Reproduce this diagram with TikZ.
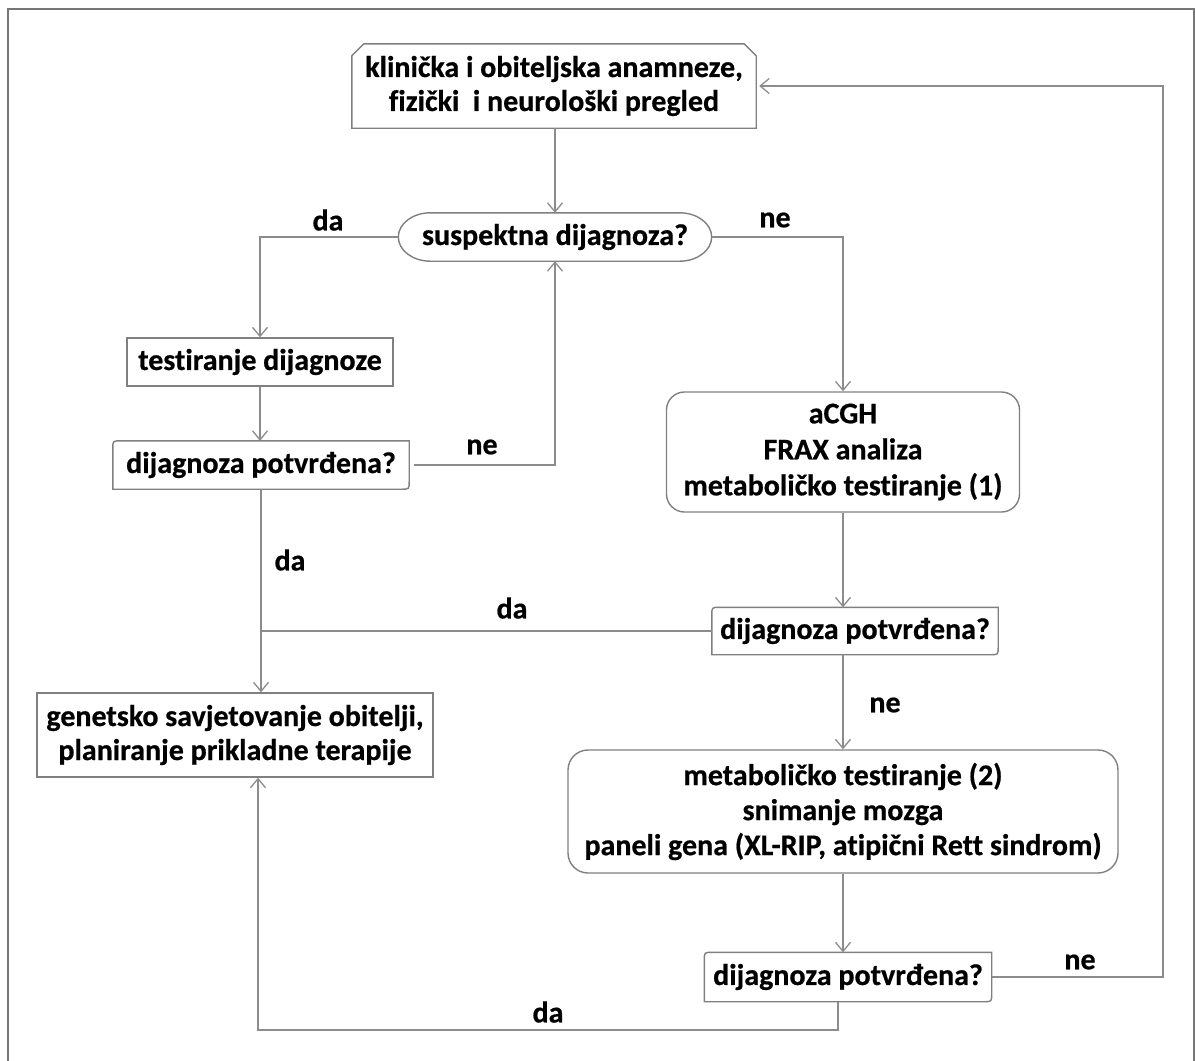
\documentclass[tikz,border=0pt]{standalone}
\usepackage{fontspec}
\setmainfont{Carlito}[Ligatures={NoCommon}, BoldFeatures={FakeBold=0.6}]
\usetikzlibrary{arrows.meta}
\definecolor{boxgray}{HTML}{808080}
\definecolor{linegray}{HTML}{8C8C8C}
\definecolor{framegray}{HTML}{767676}
\begin{document}
\begin{tikzpicture}[x=1pt,y=-1pt,
  txt/.style={font=\fontsize{30}{34}\selectfont\bfseries, align=center, inner sep=0pt},
  plainbox/.style={txt, draw=boxgray, line width=1.4pt},
  hidden/.style={txt, draw=none},
  conn/.style={draw=linegray, line width=1.3pt},
  arr/.style={conn, -{Straight Barb[length=9pt,width=15pt,line width=1.3pt]}},
  lbl/.style={font=\fontsize{30}{34}\selectfont\bfseries, inner sep=0pt}
]
\useasboundingbox (0,0) rectangle (1195,1061);
\begin{scope}
\clip (0,0) rectangle (1195,1061);
\draw[framegray, line width=2pt] (7.5,8.5) rectangle (1194,1085);
\end{scope}

% nodes
\node[hidden, minimum width=404pt, minimum height=84pt] (top) at (554,86)
  {klinička i obiteljska anamneze,\\fizički\ \ i neurološki pregled};
\draw[boxgray, line width=1.4pt]
  (top.south west) -- ([yshift=-12pt]top.north west) -- ([xshift=12pt]top.north west)
  -- ([xshift=-12pt]top.north east) -- ([yshift=-12pt]top.north east) -- (top.south east) -- cycle;

\node[hidden, minimum width=313pt, minimum height=48pt] (susp) at (555,237)
  {suspektna dijagnoza?};
\draw[boxgray, line width=1.4pt]
  (susp.west) .. controls ([yshift=13.25pt]susp.west) and ([xshift=14.3pt]susp.north west) .. ([xshift=32pt]susp.north west)
  -- ([xshift=-32pt]susp.north east) .. controls ([xshift=-14.3pt]susp.north east) and ([yshift=13.25pt]susp.east) .. (susp.east)
  .. controls ([yshift=-13.25pt]susp.east) and ([xshift=-14.3pt]susp.south east) .. ([xshift=-32pt]susp.south east)
  -- ([xshift=32pt]susp.south west) .. controls ([xshift=14.3pt]susp.south west) and ([yshift=-13.25pt]susp.west) .. (susp.west)
  -- cycle;

\node[plainbox, minimum width=266pt, minimum height=48pt] (test) at (260,362)
  {testiranje dijagnoze};

\node[hidden, minimum width=296pt, minimum height=48pt] (d1) at (261,465) {dijagnoza potvrđena?};
\node[plainbox, rounded corners=18pt, minimum width=353pt, minimum height=120pt] (acgh) at (843,452)
  {aCGH\\[2pt]FRAX analiza\\[2pt]metaboličko testiranje (1)};
\node[hidden, minimum width=286pt, minimum height=47pt] (d2) at (855,631) {dijagnoza potvrđena?};
\node[plainbox, minimum width=396pt, minimum height=84pt] (gen) at (235,735)
  {genetsko savjetovanje obitelji,\\planiranje prikladne terapije};
\node[plainbox, rounded corners=20pt, minimum width=550pt, minimum height=123pt] (met) at (843,811.5)
  {metaboličko testiranje (2)\\[1pt]snimanje mozga\\[1pt]paneli gena (XL-RIP, atipični Rett sindrom)};
\node[hidden, minimum width=287pt, minimum height=49pt] (d3) at (848,977) {dijagnoza potvrđena?};

% round-diagonal decision boxes
\foreach \n in {d1,d2,d3}{
  \draw[boxgray, line width=1.4pt]
    (\n.south west) -- ([yshift=-8pt]\n.north west) .. controls (\n.north west) .. ([xshift=8pt]\n.north west)
    -- (\n.north east) -- ([yshift=8pt]\n.south east) .. controls (\n.south east) .. ([xshift=-8pt]\n.south east)
    -- cycle;
}

% connectors
\draw[arr] (top.south -| susp.north) -- (susp.north);
\draw[arr] (susp.west) -| (test.north);
\draw[arr] (susp.east) -| (acgh.north);
\draw[arr] (test.south) -- (test.south |- d1.north);
\draw[arr] ([xshift=5pt]d1.east) -| (susp.south);
\draw[arr] (d1.south) -- (d1.south |- gen.north);
\draw[conn] (d2.west) -- (d1.south |- d2.west);
\draw[arr] (acgh.south) -- (acgh.south |- d2.north);
\draw[arr] (acgh.south |- d2.south) -- (acgh.south |- met.north);
\draw[arr] (met.south) -- (met.south |- d3.north);
\coordinate (rt) at (1163,977);
\draw[arr] (d3.east) -- (rt) |- ([xshift=3pt]top.east);
\coordinate (bt) at (838,1030);
\draw[arr] (bt |- d3.south) -- (bt) -| ([xshift=23pt]gen.south);

% labels
\node[lbl] (l1) at (328,220) {da};
\node[lbl] (l2) at (775,220) {ne};
\node[lbl] (l3) at (482,447) {ne};
\node[lbl] (l4) at (290,560) {da};
\node[lbl] (l5) at (512,608) {da};
\node[lbl] (l6) at (885,705) {ne};
\node[lbl] (l7) at (1080,962) {ne};
\node[lbl] (l8) at (548,1012) {da};
\end{tikzpicture}
\end{document}
